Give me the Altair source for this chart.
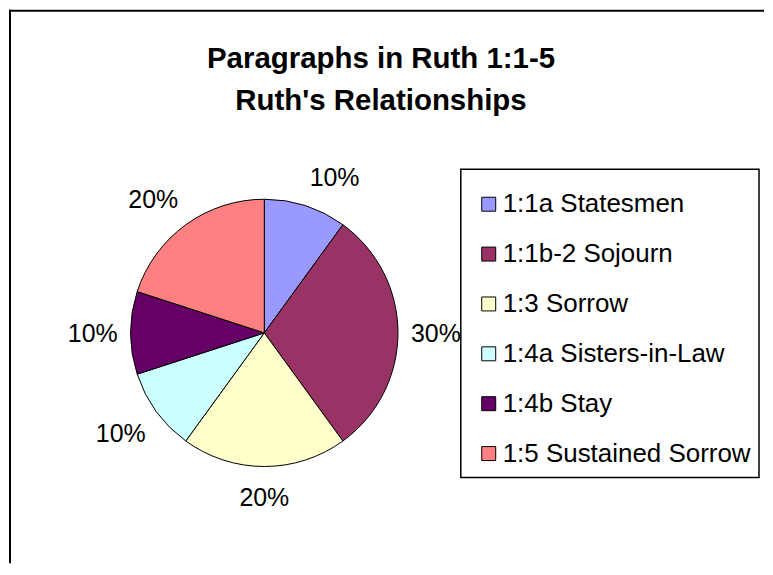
import altair as alt
import pandas as pd

# ---- data ----
title_lines = ["Paragraphs in Ruth 1:1-5", "Ruth's Relationships"]
categories = [
    "1:1a Statesmen",
    "1:1b-2 Sojourn",
    "1:3 Sorrow",
    "1:4a Sisters-in-Law",
    "1:4b Stay",
    "1:5 Sustained Sorrow",
]
shares = [10, 30, 20, 10, 10, 20]
colors = ["#9999FF", "#993366", "#FFFFCC", "#CCFFFF", "#660066", "#FF8080"]

df = pd.DataFrame({
    "cat": categories,
    "share": shares,
    "order": list(range(len(categories))),
})
leg_df = pd.DataFrame({"cat": categories})
title_df = pd.DataFrame({"t": ["\n".join(title_lines)]})
one = pd.DataFrame({"k": [0]})

FONT = "Liberation Sans"
W, H = 757, 555
CX, CY, R = 256, 324, 134
# label placement (Excel-like: label box sits just outside the rim)
LX, HW, LY, HY = 147, 25, 157, 7.5

color = alt.Color("cat:N", scale=alt.Scale(domain=categories, range=colors), legend=None)
theta = alt.Theta("share:Q", stack=True)
order = alt.Order("order:Q", sort="ascending")

pie = alt.Chart(df).mark_arc(radius=R, stroke="black", strokeWidth=1).encode(
    theta=theta, color=color, order=order, x=alt.value(CX), y=alt.value(CY)
)

sgn = "({v} > 0.01 ? 1 : ({v} < -0.01 ? -1 : 0))"
pct = (
    alt.Chart(df)
    .transform_joinaggregate(total="sum(share)")
    .transform_window(cum="sum(share)", sort=[alt.SortField("order")], frame=[None, 0])
    .transform_calculate(
        ang="2 * PI * (datum.cum - datum.share / 2) / datum.total",
        label="format(datum.share / datum.total, '.0%')",
    )
    .transform_calculate(s="sin(datum.ang)", c="cos(datum.ang)")
    .transform_calculate(
        px=f"{CX} + {LX} * datum.s + {HW} * " + sgn.format(v="datum.s"),
        py=f"{CY} + 1.5 - {LY} * datum.c - {HY} * " + sgn.format(v="datum.c"),
    )
    .mark_text(fontSize=25, font=FONT, color="black", baseline="middle", align="center")
    .encode(
        x=alt.X("px:Q", scale=None, axis=None),
        y=alt.Y("py:Q", scale=None, axis=None),
        text="label:N",
    )
)

title = alt.Chart(title_df).mark_text(
    font=FONT, fontSize=29.5, fontWeight="bold", color="black",
    lineBreak="\n", lineHeight=43, align="center", baseline="middle",
).encode(text="t:N", x=alt.value(373), y=alt.value(49))

frame_left = alt.Chart(one).mark_rule(color="black", strokeWidth=2).encode(
    x=alt.value(1), y=alt.value(0), y2=alt.value(H)
)
frame_top = alt.Chart(one).mark_rule(color="black", strokeWidth=2).encode(
    x=alt.value(0), x2=alt.value(W), y=alt.value(1)
)

leg_box = alt.Chart(one).mark_rect(fill="white", stroke="black", strokeWidth=1.5).encode(
    x=alt.value(453), x2=alt.value(752), y=alt.value(160), y2=alt.value(469)
)
ypos = alt.Y(
    "cat:N",
    scale=alt.Scale(type="point", domain=categories, range=[195, 445], padding=0),
    axis=None,
)
leg_sym = alt.Chart(leg_df).mark_square(size=196, stroke="black", strokeWidth=1, opacity=1).encode(
    x=alt.value(481), y=ypos, color=color
)
leg_txt = alt.Chart(leg_df).mark_text(
    font=FONT, fontSize=26, color="black", align="left", baseline="middle"
).encode(x=alt.value(495), y=ypos, text="cat:N")

chart = (
    alt.layer(frame_left, frame_top, title, pie, pct, leg_box, leg_sym, leg_txt)
    .resolve_scale(x="independent", y="independent")
    .properties(width=W, height=H, padding=0, background="white")
    .configure_view(strokeWidth=0)
)

chart.save("out.html", embed_options={"renderer": "svg", "actions": False})
